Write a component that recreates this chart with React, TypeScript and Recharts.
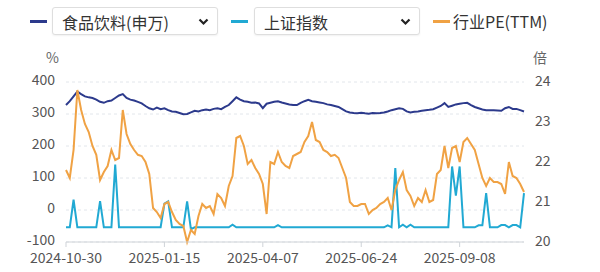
import React from 'react';
import { CartesianGrid, Line, LineChart, XAxis, YAxis } from 'recharts';

// 食品饮料(申万) 区间涨跌幅 %
const sectorPct = [
  328, 340, 355, 370, 362, 355, 352, 350, 345, 338,
  335, 340, 342, 350, 358, 362, 350, 345, 342, 338,
  333, 325, 318, 314, 320, 315, 318, 312, 308, 307,
  303, 299, 300, 305, 310, 308, 312, 314, 312, 316,
  318, 315, 322, 328, 340, 352, 345, 340, 338, 335,
  336, 333, 318, 332, 335, 338, 340, 336, 333, 330,
  328, 328, 335, 340, 344, 340, 338, 336, 334, 330,
  328, 325, 322, 315, 308, 305, 303, 302, 304, 302,
  301, 303, 302, 303, 305, 308, 312, 315, 318, 316,
  308, 305, 307, 308, 310, 312, 313, 315, 320, 325,
  334, 322, 326, 330, 332, 334, 335, 328, 322, 318,
  314, 312, 312, 312, 311, 310, 318, 322, 316, 316,
  312, 308,
];

// 上证指数 %
const shPct = [
  -54, -54, 32, -54, -54, -54, -54, -54, -54, 28,
  -54, -54, -54, 142, -54, -54, -54, -54, -54, -54,
  -54, -54, -54, -54, -54, -54, 20, 27, -54, -54,
  -54, -54, 27, -60, -54, -54, -54, -54, -54, -54,
  -54, -54, -54, -54, -46, -54, -54, -54, -54, -54,
  -54, -54, -54, -54, -54, -54, -47, -54, -54, -54,
  -54, -54, -54, -54, -54, -54, -54, -54, -54, -54,
  -54, -54, -54, -54, -54, -54, -54, -54, -54, -54,
  -54, -54, -54, -54, -54, -48, -54, 131, -54, -46,
  -54, -46, -54, -54, -54, -54, -54, -54, -54, -54,
  -54, -54, 136, 45, 136, -54, -54, -54, -54, -48,
  -48, 53, -54, -54, -54, -47, -47, -54, -47, -47,
  -54, 53,
];

// 行业PE(TTM) 倍
const peTTM = [
  21.8, 21.6, 22.3, 23.8, 23.3, 22.95, 22.75, 22.4, 22.18, 21.55,
  21.75, 21.9, 22.3, 22.05, 22.1, 23.3, 22.7, 22.45, 22.3, 22.18,
  22.15, 22.0, 21.7, 20.85, 20.75, 20.6, 20.95, 21.0, 20.75, 20.55,
  20.45, 20.4, 20.0, 20.3, 20.2, 20.65, 20.95, 20.85, 20.9, 20.7,
  21.2, 21.1, 20.9, 21.4, 21.65, 22.6, 22.65, 22.4, 21.95, 22.05,
  21.85, 21.7, 21.45, 20.7, 22.0, 21.95, 22.25, 22.0, 21.9, 21.85,
  22.15, 22.2, 22.25, 22.5, 22.65, 23.0, 22.55, 22.5, 22.3, 22.25,
  22.15, 22.18, 22.1, 21.85, 21.6, 21.0, 20.9, 20.9, 20.95, 20.95,
  20.7, 20.8, 20.85, 20.95, 21.0, 21.1, 20.8, 21.3, 21.55, 21.75,
  21.3, 21.15, 20.9, 21.1, 21.0, 21.3, 21.0, 21.05, 21.7, 21.8,
  22.4, 21.85, 22.35, 22.4, 22.0, 22.5, 22.6, 22.45, 22.3, 21.95,
  21.6, 21.4, 21.6, 21.5, 21.5, 21.45, 21.2, 22.0, 21.65, 21.6,
  21.45, 21.25,
];

const tickDates = ['2024-10-30', '2025-01-15', '2025-04-07', '2025-06-24', '2025-09-08'];
const tickIdx = [0, 26, 52, 78, 104];
const leftTicks = [-100, 0, 100, 200, 300, 400];
const rightTicks = [20, 21, 22, 23, 24];

const data = sectorPct.map((v, i) => ({ i, sector: v, sh: shPct[i], pe: peTTM[i] }));

const FONT = '"Noto Sans CJK SC", "Noto Sans", sans-serif';
const NAVY = '#2c3a8c';
const CYAN = '#21a9d3';
const ORANGE = '#f0a244';

const Chevron = () => (
  <svg width={11} height={8} viewBox="0 0 11 8" style={{ position: 'absolute', right: 8, top: 10 }}>
    <polyline points="1.5,1.5 5.5,5.5 9.5,1.5" fill="none" stroke="#222" strokeWidth={2.2} />
  </svg>
);

const Select = ({ left, label }: { left: number; label: string }) => (
  <div
    style={{
      position: 'absolute', left, top: 7, width: 164, height: 26,
      border: '1px solid #dedede', borderRadius: 3, background: '#fff',
      boxShadow: '0 1px 2px rgba(0,0,0,0.06)',
    }}
  >
    <span style={{ position: 'absolute', left: 9, top: 2, fontSize: 16, color: '#333', whiteSpace: 'nowrap' }}>{label}</span>
    <Chevron />
  </div>
);

const Marker = ({ left, color }: { left: number; color: string }) => (
  <div style={{ position: 'absolute', left, top: 20, width: 17, height: 3, background: color }} />
);

export default function App() {
  return (
    <div style={{ position: 'absolute', left: 0, top: 0, width: 600, height: 272, background: '#fff', fontFamily: FONT }}>
      <Marker left={30} color={NAVY} />
      <Select left={52} label="食品饮料(申万)" />
      <Marker left={231} color={CYAN} />
      <Select left={254} label="上证指数" />
      <Marker left={433} color={ORANGE} />
      <span style={{ position: 'absolute', left: 453, top: 9, fontSize: 16, color: '#333', whiteSpace: 'nowrap' }}>行业PE(TTM)</span>
      <span style={{ position: 'absolute', left: 46, top: 47, fontSize: 14, color: '#666' }}>%</span>
      <span style={{ position: 'absolute', left: 533, top: 47, fontSize: 14, color: '#666' }}>倍</span>

      <div style={{ position: 'absolute', left: 0, top: 0 }}>
        <LineChart width={600} height={272} data={data} margin={{ top: 82, right: 0, bottom: 0, left: 0 }}>
          <CartesianGrid yAxisId="left" vertical={false} stroke="#e2e6eb" strokeDasharray="3 3" />
          <XAxis
            type="number"
            dataKey="i"
            domain={[0, sectorPct.length - 1]}
            ticks={tickIdx}
            tickFormatter={(v) => tickDates[tickIdx.indexOf(v)]}
            height={30}
            tickSize={5}
            tickMargin={6}
            axisLine={{ stroke: '#cfd3d8' }}
            tickLine={{ stroke: '#cfd3d8' }}
            tick={{ fontSize: 14, fill: '#555', fontFamily: FONT }}
            interval={0}
          />
          <YAxis
            yAxisId="left"
            width={66}
            domain={[-100, 400]}
            ticks={leftTicks}
            axisLine={false}
            tickLine={false}
            tickMargin={5}
            tick={{ fontSize: 14, fill: '#555', fontFamily: FONT, dy: -2 }}
            interval={0}
          />
          <YAxis
            yAxisId="right"
            orientation="right"
            width={76}
            domain={[20, 24]}
            ticks={rightTicks}
            axisLine={false}
            tickLine={false}
            tickMargin={5}
            tick={{ fontSize: 14, fill: '#555', fontFamily: FONT, dy: -1 }}
            interval={0}
          />
          <Line yAxisId="left" type="linear" dataKey="sector" stroke={NAVY} strokeWidth={2} dot={false} isAnimationActive={false} />
          <Line yAxisId="left" type="linear" dataKey="sh" stroke={CYAN} strokeWidth={2} dot={false} isAnimationActive={false} />
          <Line yAxisId="right" type="linear" dataKey="pe" stroke={ORANGE} strokeWidth={2} dot={false} isAnimationActive={false} />
        </LineChart>
      </div>
    </div>
  );
}
